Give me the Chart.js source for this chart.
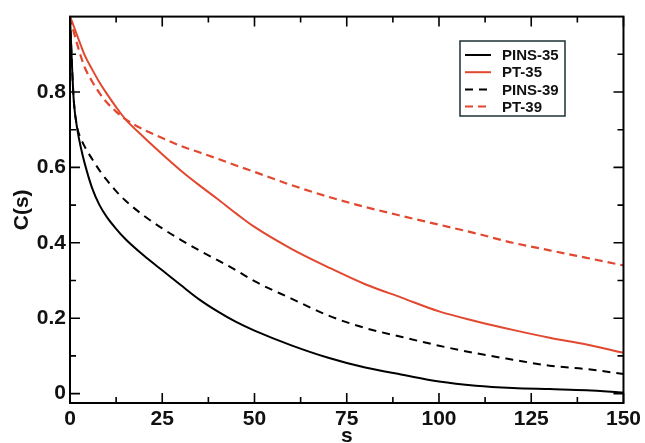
<!DOCTYPE html>
<html>
<head>
<meta charset="utf-8">
<script src="https://cdn.jsdelivr.net/npm/chart.js@4"></script>
<style>
  body { margin: 0; background: #fff; }
</style>
</head>
<body>
<canvas id="corrChart" width="645" height="443"></canvas>
<script>
// lag s and C(s) for each system
const sValues = [0, 0.5, 1, 2, 3, 4, 6, 8, 10, 12.5, 15, 20, 25, 30, 35, 40, 45, 50, 60, 70, 80, 90, 100, 110, 120, 130, 140, 150];
const pins35 = [1.0, 0.88, 0.78, 0.70, 0.65, 0.61, 0.545, 0.50, 0.468, 0.437, 0.41, 0.366, 0.327, 0.288, 0.25, 0.218, 0.19, 0.167, 0.128, 0.095, 0.069, 0.05, 0.032, 0.021, 0.015, 0.012, 0.009, 0.003];
const pt35 = [1.0, 0.988, 0.975, 0.948, 0.922, 0.897, 0.86, 0.825, 0.795, 0.76, 0.728, 0.68, 0.635, 0.592, 0.553, 0.516, 0.478, 0.442, 0.384, 0.335, 0.29, 0.254, 0.218, 0.192, 0.169, 0.148, 0.13, 0.108];
const pins39 = [1.0, 0.88, 0.78, 0.705, 0.675, 0.655, 0.622, 0.592, 0.566, 0.537, 0.512, 0.472, 0.438, 0.408, 0.38, 0.354, 0.327, 0.298, 0.252, 0.207, 0.174, 0.15, 0.127, 0.107, 0.09, 0.074, 0.065, 0.052];
const pt39 = [1.0, 0.98, 0.96, 0.925, 0.893, 0.865, 0.828, 0.797, 0.772, 0.748, 0.728, 0.70, 0.678, 0.657, 0.64, 0.623, 0.605, 0.588, 0.553, 0.522, 0.495, 0.471, 0.448, 0.425, 0.40, 0.38, 0.36, 0.34];

const xMajor = [0, 25, 50, 75, 100, 125, 150];
const xMinor = [12.5, 37.5, 62.5, 87.5, 112.5, 137.5];
const yMajor = [0, 0.2, 0.4, 0.6, 0.8];
const yMinor = [0.1, 0.3, 0.5, 0.7, 0.9];

const RED = '#e2482f';
const FONT = "'Liberation Sans', Arial, sans-serif";

function pts(ys) {
    return sValues.map((s, i) => ({ x: s, y: ys[i] }));
}

// frame with inward ticks on all four sides, plus the boxed legend
const framePlugin = {
    id: 'frame',
    afterDatasetsDraw(chart) {
        const ctx = chart.ctx;
        const a = chart.chartArea;
        const xs = chart.scales.x, ys = chart.scales.y;
        ctx.save();
        ctx.strokeStyle = '#000';
        ctx.lineWidth = 2;
        ctx.strokeRect(a.left, a.top, a.right - a.left, a.bottom - a.top);
        ctx.lineWidth = 1.6;
        ctx.beginPath();
        const xt = (v, len) => {
            const px = xs.getPixelForValue(v);
            ctx.moveTo(px, a.bottom); ctx.lineTo(px, a.bottom - len);
            ctx.moveTo(px, a.top); ctx.lineTo(px, a.top + len);
        };
        const yt = (v, len) => {
            const py = ys.getPixelForValue(v);
            ctx.moveTo(a.left, py); ctx.lineTo(a.left + len, py);
            ctx.moveTo(a.right, py); ctx.lineTo(a.right - len, py);
        };
        xMajor.forEach(v => xt(v, 10));
        xMinor.forEach(v => xt(v, 6));
        yMajor.forEach(v => yt(v, 10));
        yMinor.forEach(v => yt(v, 6));
        ctx.stroke();

        // legend
        const bx = 460, by = 41, bw = 105, bh = 75;
        ctx.fillStyle = '#fff';
        ctx.fillRect(bx, by, bw, bh);
        ctx.strokeStyle = '#1c3033';
        ctx.lineWidth = 1.5;
        ctx.strokeRect(bx, by, bw, bh);
        ctx.font = 'bold 15px ' + FONT;
        ctx.textBaseline = 'middle';
        chart.data.datasets.forEach((ds, i) => {
            const y = by + 14 + i * 17.2;
            ctx.strokeStyle = ds.borderColor;
            ctx.lineWidth = 2;
            ctx.setLineDash(ds.borderDash || []);
            ctx.beginPath();
            ctx.moveTo(bx + 5, y);
            ctx.lineTo(bx + 31, y);
            ctx.stroke();
            ctx.setLineDash([]);
            ctx.fillStyle = '#111';
            ctx.fillText(ds.label, bx + 42, y + 1);
        });
        ctx.restore();
    }
};

new Chart(document.getElementById('corrChart'), {
    type: 'line',
    data: {
        datasets: [
            { label: 'PINS-35', data: pts(pins35), borderColor: '#000', borderWidth: 2 },
            { label: 'PT-35', data: pts(pt35), borderColor: RED, borderWidth: 2 },
            { label: 'PINS-39', data: pts(pins39), borderColor: '#000', borderWidth: 2, borderDash: [8, 6] },
            { label: 'PT-39', data: pts(pt39), borderColor: RED, borderWidth: 2.2, borderDash: [8, 5] }
        ]
    },
    options: {
        responsive: false,
        animation: false,
        devicePixelRatio: 1,
        layout: { padding: { top: 15, right: 17, left: 0, bottom: 0 } },
        elements: {
            point: { radius: 0 },
            line: { cubicInterpolationMode: 'monotone', fill: false }
        },
        plugins: {
            legend: { display: false },
            tooltip: { enabled: false }
        },
        scales: {
            x: {
                type: 'linear',
                min: 0,
                max: 150,
                grid: { display: false, drawTicks: false },
                border: { display: false },
                afterBuildTicks: s => { s.ticks = xMajor.map(v => ({ value: v })); },
                afterFit: s => { s.height = 40; },
                ticks: {
                    padding: 4,
                    color: '#111',
                    maxRotation: 0,
                    font: { family: FONT, size: 21, weight: 'bold' }
                },
                title: {
                    display: true,
                    text: 's',
                    color: '#111',
                    padding: { top: 0, bottom: -6 },
                    font: { family: FONT, size: 21, weight: 'bold' }
                }
            },
            y: {
                min: -0.025,
                max: 1.0,
                grid: { display: false, drawTicks: false },
                border: { display: false },
                afterBuildTicks: s => { s.ticks = yMajor.map(v => ({ value: v })); },
                afterFit: s => { s.width = 70; },
                ticks: {
                    padding: 4,
                    color: '#111',
                    font: { family: FONT, size: 21, weight: 'bold' },
                    callback: v => (v === 0 ? '0' : v.toFixed(1))
                },
                title: {
                    display: true,
                    text: 'C(s)',
                    color: '#111',
                    padding: { top: 10, bottom: 0 },
                    font: { family: FONT, size: 21, weight: 'bold' }
                }
            }
        }
    },
    plugins: [framePlugin]
});
</script>
</body>
</html>
